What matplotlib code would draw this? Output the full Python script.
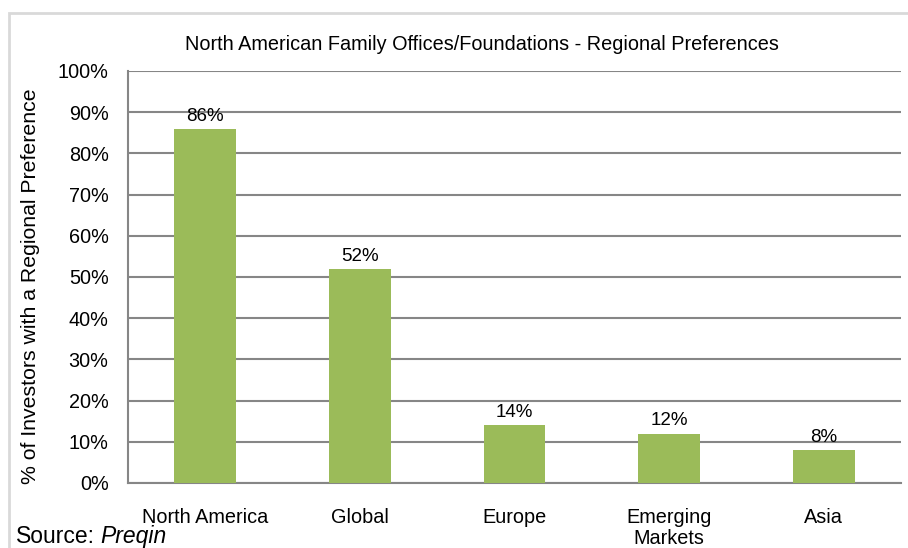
import matplotlib
matplotlib.use("Agg")
import matplotlib.pyplot as plt
from matplotlib.patches import Rectangle
import numpy as np

categories = ["North America", "Global", "Europe", "Emerging\nMarkets", "Asia"]
values = [86, 52, 14, 12, 8]
yticks = [0, 10, 20, 30, 40, 50, 60, 70, 80, 90, 100]
ytick_labels = [f"{v}%" for v in yticks]

plt.rcParams['font.family'] = ['Liberation Sans', 'DejaVu Sans']

W, H = 908, 548
fig = plt.figure(figsize=(W / 100, H / 100), dpi=100)

# outer light frame
fig.patches.append(Rectangle((9 / W, -0.1), 1.2, 1 - 13 / H + 0.1, transform=fig.transFigure,
                             fill=False, edgecolor="#d9d9d9", linewidth=2))

left, right, top, bottom = 128, 901, 71, 483
ax = fig.add_axes([left / W, 1 - bottom / H, (right - left) / W, (bottom - top) / H])

x = np.arange(len(categories))
bars = ax.bar(x, values, width=0.4, color="#9BBB59", zorder=3)
for xi, v in zip(x, values):
    ax.text(xi, v + 1.0, f"{v}%", ha="center", va="bottom", fontsize=13.5, color="#000000", zorder=4)

ax.set_xlim(-0.5, len(categories) - 0.5)
ax.set_ylim(0, 100)
ax.set_yticks(yticks)
ax.set_yticklabels(ytick_labels, fontsize=14.3)
ax.set_xticks(x)
ax.set_xticklabels(categories, fontsize=14.3, linespacing=1.15)
ax.tick_params(axis="both", length=0)
ax.tick_params(axis="y", pad=14)
ax.tick_params(axis="x", pad=18)
ax.yaxis.grid(True, color="#868686", linewidth=1.5, zorder=0)
for s in ["top", "right"]:
    ax.spines[s].set_visible(False)
for s in ["left", "bottom"]:
    ax.spines[s].set_color("#868686")
    ax.spines[s].set_linewidth(1.5)

fig.text(31 / W, 1 - 286 / H, "% of Investors with a Regional Preference", rotation=90,
         ha="center", va="center", fontsize=15.3)

fig.text(482 / W, 1 - 44 / H, "North American Family Offices/Foundations - Regional Preferences",
         ha="center", va="center", fontsize=14.3)

fig.text(16 / W, 1 - 543 / H, "Source:", ha="left", va="baseline", fontsize=16.5)
fig.text(100 / W, 1 - 543 / H, "Preqin", ha="left", va="baseline", fontsize=16.5, style="italic")

fig.savefig("out.png", dpi=100)
